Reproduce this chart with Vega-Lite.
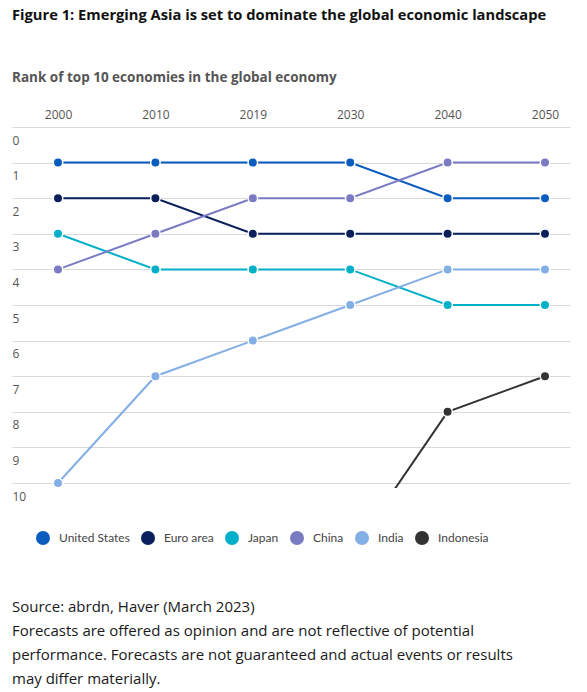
{
  "$schema": "https://vega.github.io/schema/vega-lite/v6.json",
  "padding": {"left": 12, "top": 7, "right": 5, "bottom": 5},
  "background": "white",
  "config": {"view": {"stroke": null}, "font": "Open Sans"},
  "title": {
    "text": ["Source: abrdn, Haver (March 2023)", "Forecasts are offered as opinion and are not reflective of potential", "performance. Forecasts are not guaranteed and actual events or results", "may differ materially."],
    "orient": "bottom",
    "anchor": "start",
    "frame": "group",
    "font": "Open Sans",
    "fontSize": 15,
    "fontWeight": "normal",
    "color": "#1a1a1a",
    "lineHeight": 24,
    "offset": 55
  },
  "vconcat": [
    {
      "title": {
        "text": "Figure 1: Emerging Asia is set to dominate the global economic landscape",
        "subtitle": "Rank of top 10 economies in the global economy",
        "anchor": "start",
        "frame": "group",
        "font": "Open Sans",
        "fontSize": 14.7,
        "fontWeight": "bold",
        "color": "#111111",
        "subtitleFont": "Open Sans",
        "subtitleFontSize": 13.5,
        "subtitleFontWeight": "bold",
        "subtitleColor": "#555555",
        "subtitlePadding": 48,
        "offset": 24
      },
      "width": 558,
      "height": 361,
      "data": {
        "values": [
          {"country": "United States", "year": "2000", "rank": 1},
          {"country": "United States", "year": "2010", "rank": 1},
          {"country": "United States", "year": "2019", "rank": 1},
          {"country": "United States", "year": "2030", "rank": 1},
          {"country": "United States", "year": "2040", "rank": 2},
          {"country": "United States", "year": "2050", "rank": 2},
          {"country": "Euro area", "year": "2000", "rank": 2},
          {"country": "Euro area", "year": "2010", "rank": 2},
          {"country": "Euro area", "year": "2019", "rank": 3},
          {"country": "Euro area", "year": "2030", "rank": 3},
          {"country": "Euro area", "year": "2040", "rank": 3},
          {"country": "Euro area", "year": "2050", "rank": 3},
          {"country": "Japan", "year": "2000", "rank": 3},
          {"country": "Japan", "year": "2010", "rank": 4},
          {"country": "Japan", "year": "2019", "rank": 4},
          {"country": "Japan", "year": "2030", "rank": 4},
          {"country": "Japan", "year": "2040", "rank": 5},
          {"country": "Japan", "year": "2050", "rank": 5},
          {"country": "China", "year": "2000", "rank": 4},
          {"country": "China", "year": "2010", "rank": 3},
          {"country": "China", "year": "2019", "rank": 2},
          {"country": "China", "year": "2030", "rank": 2},
          {"country": "China", "year": "2040", "rank": 1},
          {"country": "China", "year": "2050", "rank": 1},
          {"country": "India", "year": "2000", "rank": 10},
          {"country": "India", "year": "2010", "rank": 7},
          {"country": "India", "year": "2019", "rank": 6},
          {"country": "India", "year": "2030", "rank": 5},
          {"country": "India", "year": "2040", "rank": 4},
          {"country": "India", "year": "2050", "rank": 4},
          {"country": "Indonesia", "year": "2030", "rank": 12},
          {"country": "Indonesia", "year": "2040", "rank": 8},
          {"country": "Indonesia", "year": "2050", "rank": 7}
        ]
      },
      "encoding": {
        "x": {
          "field": "year",
          "type": "ordinal",
          "scale": {"type": "point", "padding": 0.3645, "align": 0.648},
          "axis": {
            "orient": "top",
            "title": null,
            "domain": false,
            "ticks": false,
            "labelAngle": 0,
            "labelPadding": 6,
            "labelFont": "Open Sans",
            "labelFontSize": 12,
            "labelColor": "#555555",
            "grid": false
          }
        },
        "y": {
          "field": "rank",
          "type": "quantitative",
          "scale": {"domain": [0, 10.14], "nice": false, "zero": false, "reverse": true},
          "axis": {
            "title": null,
            "values": [0, 1, 2, 3, 4, 5, 6, 7, 8, 9, 10],
            "domain": false,
            "ticks": false,
            "tickSize": 0,
            "labelAlign": "left",
            "labelBaseline": "middle",
            "labelPadding": 0,
            "labelOffset": 13,
            "labelFont": "Open Sans",
            "labelFontSize": 12,
            "labelColor": "#555555",
            "grid": true,
            "gridColor": "#d9d9d9",
            "gridWidth": 1
          }
        },
        "color": {
          "field": "country",
          "type": "nominal",
          "scale": {
            "domain": ["United States", "Euro area", "Japan", "China", "India", "Indonesia"],
            "range": ["#0a5cbf", "#0a1f5c", "#00b0c8", "#7b7bc4", "#84aee6", "#333333"]
          },
          "legend": {
            "title": null,
            "orient": "none",
            "direction": "horizontal",
            "legendX": 24,
            "legendY": 404,
            "symbolType": "circle",
            "symbolSize": 196,
            "symbolStrokeWidth": 0,
            "labelFont": "Lato",
            "labelFontSize": 12,
            "labelColor": "#444444",
            "labelOffset": 9,
            "columnPadding": 11
          }
        }
      },
      "layer": [
        {
          "mark": {"type": "line", "strokeWidth": 2, "clip": true}
        },
        {
          "transform": [{"filter": "datum.rank <= 10"}],
          "mark": {"type": "point", "filled": true, "size": 90, "opacity": 1, "stroke": "white", "strokeWidth": 1.5}
        }
      ]
    }
  ]
}
